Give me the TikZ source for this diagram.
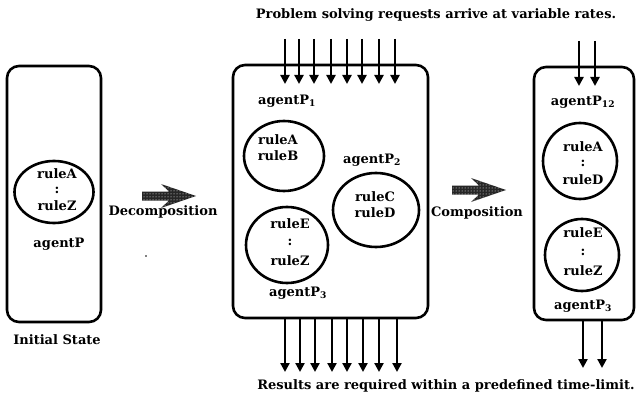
\documentclass[tikz,border=0pt]{standalone}
\usepackage{fontspec}
\setmainfont{DejaVu Serif}
\usetikzlibrary{arrows.meta,shapes.geometric,patterns,calc}

\tikzset{
  every node/.style={font=\bfseries\fontsize{13}{15}\selectfont, inner sep=0pt},
  statebox/.style={draw, line width=2.6pt, rounded corners=12pt, minimum width=#1},
  agent/.style={draw, ellipse, line width=2.6pt},
  flow/.style={line width=2.2pt, -{Triangle[length=9pt,width=9pt]}},
  bigarrow/.style={fill=black!85},
  bigdots/.style={pattern=dots, pattern color=white}
}

% thick shaded arrow between stages, centred on #1
\newcommand{\stagearrow}[1]{%
  \begin{scope}
  \path[bigarrow] ($(#1)+(-27,-4.5)$) -- ($(#1)+(0,-4.5)$) -- ($(#1)+(-8,-12)$)
    -- ($(#1)+(27,0)$) -- ($(#1)+(-8,12)$) -- ($(#1)+(0,4.5)$) -- ($(#1)+(-27,4.5)$) -- cycle;
  \end{scope}
  \begin{scope}
  \path[bigdots] ($(#1)+(-27,-4.5)$) -- ($(#1)+(0,-4.5)$) -- ($(#1)+(-8,-12)$)
    -- ($(#1)+(27,0)$) -- ($(#1)+(-8,12)$) -- ($(#1)+(0,4.5)$) -- ($(#1)+(-27,4.5)$) -- cycle;
  \end{scope}
}

\begin{document}
\begin{tikzpicture}[x=1pt,y=-1pt]
\useasboundingbox (0,0) rectangle (636,398);

% ---------- initial state ----------
\node[statebox=94pt, minimum height=256pt] (box0) at (54,194) {};
\node[agent, minimum width=79pt, minimum height=62pt] (c0) at (54,192) {};
\node (t0a) at (57,174) {ruleA};
\node (t0b) at (57,190) {:};
\node (t0c) at (57,206) {ruleZ};
\node (ag0) at (59,244) {agentP};
\node (lbl0) at (57,340) {Initial State};

% ---------- decomposition ----------
\coordinate (dec) at (169,196);
\stagearrow{dec}
\node[text=black] (declbl) at (163,212) {Decomposition};
\fill (146,256) circle (0.9pt);

% ---------- decomposed agents ----------
\node[statebox=195pt, minimum height=253pt] (box1) at (330.5,191.5) {};
\node (ag1) at (287,101) {agentP\textsubscript{1}};
\node[agent, minimum width=80pt, minimum height=70pt] (c1) at (284,156) {};
\node (t1a) at (278,140) {ruleA};
\node (t1b) at (278,156) {ruleB};
\node (ag2) at (372,160) {agentP\textsubscript{2}};
\node[agent, minimum width=86pt, minimum height=74pt] (c2) at (376,210) {};
\node (t2a) at (375,197) {ruleC};
\node (t2b) at (375,213) {ruleD};
\node[agent, minimum width=82pt, minimum height=76pt] (c3) at (287,245) {};
\node (t3a) at (290,224) {ruleE};
\node (t3b) at (290,242) {:};
\node (t3c) at (290,261) {ruleZ};
\node (ag3) at (298,293) {agentP\textsubscript{3}};

% requests in, results out
\node (req) at (436,15) {Problem solving requests arrive at variable rates.};
\node (res) at (446,386) {Results are required within a predefined time-limit.};
\foreach \x [count=\i] in {285,299,314,331,347,362,379,395} {
  \coordinate (in\i) at (\x,39);
  \coordinate (inT\i) at (\x,84);
  \draw[flow] (in\i) -- (inT\i);
}
\foreach \x [count=\i] in {285,300,315,332,347,363,379,397} {
  \coordinate (out\i) at (\x,318);
  \coordinate (outT\i) at (\x,372);
  \draw[flow] (out\i) -- (outT\i);
}

% ---------- composition ----------
\coordinate (com) at (479,190);
\stagearrow{com}
\node[text=black] (comlbl) at (477,213) {Composition};

% ---------- composed agents ----------
\node[statebox=100pt, minimum height=253pt] (box2) at (584,193.5) {};
\node (ag12) at (583,102) {agentP\textsubscript{12}};
\node[agent, minimum width=74pt, minimum height=76pt] (c4) at (580,161) {};
\node (t4a) at (583,147) {ruleA};
\node (t4b) at (583,163) {:};
\node (t4c) at (583,180) {ruleD};
\node[agent, minimum width=74pt, minimum height=72pt] (c5) at (582,255) {};
\node (t5a) at (583,233) {ruleE};
\node (t5b) at (583,252) {:};
\node (t5c) at (583,271) {ruleZ};
\node (ag5) at (583,306) {agentP\textsubscript{3}};
\foreach \x [count=\i] in {579,595} {
  \coordinate (rin\i) at (\x,41);
  \coordinate (rinT\i) at (\x,86);
  \draw[flow] (rin\i) -- (rinT\i);
}
\foreach \x [count=\i] in {583,602} {
  \coordinate (rout\i) at (\x,320);
  \coordinate (routT\i) at (\x,368);
  \draw[flow] (rout\i) -- (routT\i);
}
\end{tikzpicture}
\end{document}
